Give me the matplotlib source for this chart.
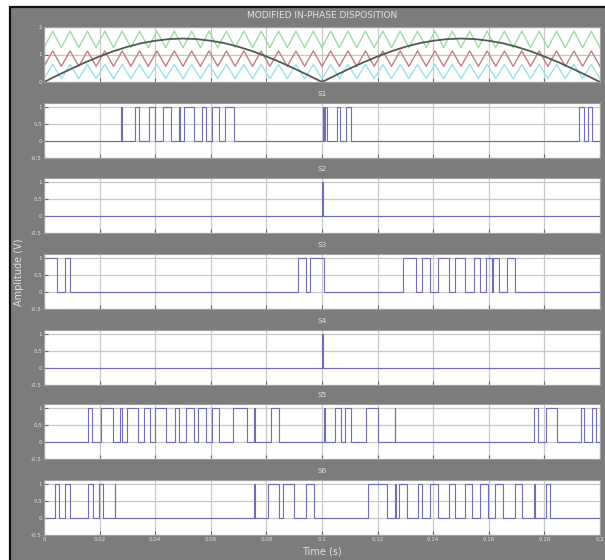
import matplotlib
matplotlib.use("Agg")
import matplotlib.pyplot as plt
import numpy as np
from matplotlib.patches import Rectangle

# ---- data -------------------------------------------------------------
time_ticks = [0, 0.02, 0.04, 0.06, 0.08, 0.1, 0.12, 0.14, 0.16, 0.18, 0.2]
time_labels = ["0", "0.02", "0.04", "0.06", "0.08", "0.1", "0.12", "0.14",
               "0.16", "0.18", "0.2"]

# rectified reference signal, sampled every 5 ms
ref_t = [0.000, 0.005, 0.010, 0.015, 0.020, 0.025, 0.030, 0.035, 0.040,
         0.045, 0.050, 0.055, 0.060, 0.065, 0.070, 0.075, 0.080, 0.085,
         0.090, 0.095, 0.100, 0.105, 0.110, 0.115, 0.120, 0.125, 0.130,
         0.135, 0.140, 0.145, 0.150, 0.155, 0.160, 0.165, 0.170, 0.175,
         0.180, 0.185, 0.190, 0.195, 0.200]
ref_v = [0.00, 0.25, 0.49, 0.72, 0.93, 1.12, 1.28, 1.41, 1.50, 1.56, 1.58,
         1.56, 1.50, 1.41, 1.28, 1.12, 0.93, 0.72, 0.49, 0.25, 0.00,
         0.25, 0.49, 0.72, 0.93, 1.12, 1.28, 1.41, 1.50, 1.56, 1.58,
         1.56, 1.50, 1.41, 1.28, 1.12, 0.93, 0.72, 0.49, 0.25, 0.00]

# level-shifted carriers (low, high) and number of periods in 0.2 s
carrier_bands = [(0.12, 0.64), (0.57, 1.13), (1.25, 1.85)]
carrier_colors = ["#9ee2e2", "#c27f7f", "#9ddca6"]
carrier_periods = 32

# switching pulses (turn-on, turn-off) in seconds
s1_pulses = [(0.0278, 0.0282), (0.0328, 0.0342), (0.0377, 0.0398),
             (0.0428, 0.0456), (0.0485, 0.0489), (0.0505, 0.0540),
             (0.0567, 0.0581), (0.0606, 0.0630), (0.0650, 0.0683),
             (0.1004, 0.1008), (0.1012, 0.1017), (0.1054, 0.1066),
             (0.1088, 0.1103), (0.1926, 0.1942), (0.1958, 0.1972)]
s2_pulses = [(0.1000, 0.1003)]
s3_pulses = [(0.0000, 0.0046), (0.0074, 0.0095), (0.0915, 0.0943),
             (0.0957, 0.1006), (0.1291, 0.1339), (0.1360, 0.1388),
             (0.1416, 0.1458), (0.1478, 0.1513), (0.1548, 0.1569),
             (0.1590, 0.1611), (0.1614, 0.1638), (0.1666, 0.1694)]
s4_pulses = [(0.1000, 0.1003)]
s5_pulses = [(0.0157, 0.0174), (0.0206, 0.0248), (0.0275, 0.0282),
             (0.0300, 0.0338), (0.0359, 0.0380), (0.0401, 0.0440),
             (0.0470, 0.0487), (0.0510, 0.0540), (0.0554, 0.0581),
             (0.0606, 0.0630), (0.0679, 0.0730), (0.0755, 0.0758),
             (0.0818, 0.0846), (0.1006, 0.1010), (0.1047, 0.1068),
             (0.1082, 0.1103), (0.1159, 0.1200), (0.1261, 0.1264),
             (0.1764, 0.1777), (0.1805, 0.1847), (0.1930, 0.1944),
             (0.1972, 0.1986)]
s6_pulses = [(0.0039, 0.0053), (0.0074, 0.0095), (0.0157, 0.0178),
             (0.0199, 0.0213), (0.0254, 0.0257), (0.0755, 0.0758),
             (0.0804, 0.0846), (0.0860, 0.0901), (0.0943, 0.0971),
             (0.1166, 0.1235), (0.1262, 0.1265), (0.1277, 0.1305),
             (0.1346, 0.1360), (0.1388, 0.1416), (0.1458, 0.1478),
             (0.1513, 0.1541), (0.1569, 0.1597), (0.1624, 0.1652),
             (0.1694, 0.1720), (0.1763, 0.1766), (0.1805, 0.1819)]

switch_names = ["S1", "S2", "S3", "S4", "S5", "S6"]
switch_pulses = [s1_pulses, s2_pulses, s3_pulses, s4_pulses, s5_pulses,
                 s6_pulses]
switch_yticks = [-0.5, 0, 0.5, 1]
switch_ylabels = ["-0.5", "0", "0.5", "1"]
carrier_yticks = [0, 1, 2]
carrier_ylabels = ["0", "1", "2"]

# ---- figure -----------------------------------------------------------
W, H = 605, 560
PANEL = "#7c7c7c"
TXT = "#e2e2e2"
GRID = "#c8c8c8"
SIG = "#6d6db8"

fig = plt.figure(figsize=(W / 100, H / 100), dpi=100, facecolor="white")
fig.patches.append(Rectangle((10 / W, -0.05), 1.0, (H - 7) / H + 0.05,
                             transform=fig.transFigure, facecolor=PANEL,
                             edgecolor="#111111", linewidth=1.6, zorder=-5))

left_px, right_px = 44, 600
tops_px = [27, 103, 178, 254, 330, 404, 480]
height_px = 55
xc = 0.5 * (left_px + right_px) / W


def make_axes(top):
    ax = fig.add_axes([left_px / W, 1 - (top + height_px) / H,
                       (right_px - left_px) / W, height_px / H])
    ax.set_facecolor("white")
    ax.set_xlim(0, 0.2)
    ax.set_xticks(time_ticks)
    ax.grid(True, color=GRID, linewidth=0.9)
    ax.tick_params(direction="in", length=3, width=0.8, color="#6a6a6a",
                   labelsize=4, labelcolor=TXT, pad=1.5)
    for sp in ax.spines.values():
        sp.set_color("#a0a0a0")
        sp.set_linewidth(0.8)
    return ax


def pulse_trace(pulses):
    t, v = [0.0], [0.0]
    for on, off in pulses:
        t += [on, on, off, off]
        v += [v[-1], 1.0, 1.0, 0.0]
    t.append(0.2)
    v.append(v[-1])
    return np.array(t), np.array(v)


# carriers and reference
ax0 = make_axes(tops_px[0])
ax0.set_ylim(0, 2)
ax0.set_yticks(carrier_yticks)
ax0.set_yticklabels(carrier_ylabels)
ax0.set_xticklabels([])
n_vertices = 2 * carrier_periods + 1
vt = np.linspace(0, 0.2, n_vertices)
for (lo, hi), col in zip(carrier_bands, carrier_colors):
    vv = np.where(np.arange(n_vertices) % 2 == 0, lo, hi)
    ax0.plot(vt, vv, color=col, linewidth=1.0)
ax0.plot(ref_t, ref_v, color="#4f5a5a", linewidth=1.3)
fig.text(xc, 1 - 16 / H, "MODIFIED IN-PHASE DISPOSITION", ha="center",
         va="center", fontsize=6.5, color=TXT)

for i, (name, pulses) in enumerate(zip(switch_names, switch_pulses)):
    ax = make_axes(tops_px[i + 1])
    ax.set_ylim(-0.5, 1.12)
    ax.set_yticks(switch_yticks)
    ax.set_yticklabels(switch_ylabels)
    t, v = pulse_trace(pulses)
    ax.plot(t, v, color=SIG, linewidth=0.8)
    if i < 5:
        ax.set_xticklabels([])
    else:
        ax.set_xticklabels(time_labels)
    fig.text(xc, 1 - (tops_px[i + 1] - 9) / H, name, ha="center",
             va="center", fontsize=5.2, color=TXT)

fig.text(xc, 1 - 552 / H, "Time (s)", ha="center", va="center",
         fontsize=7, color=TXT)
fig.text(19 / W, 1 - 272 / H, "Amplitude (V)", ha="center", va="center",
         rotation=90, fontsize=7, color=TXT)

fig.savefig("out.png", dpi=100, facecolor="white")
